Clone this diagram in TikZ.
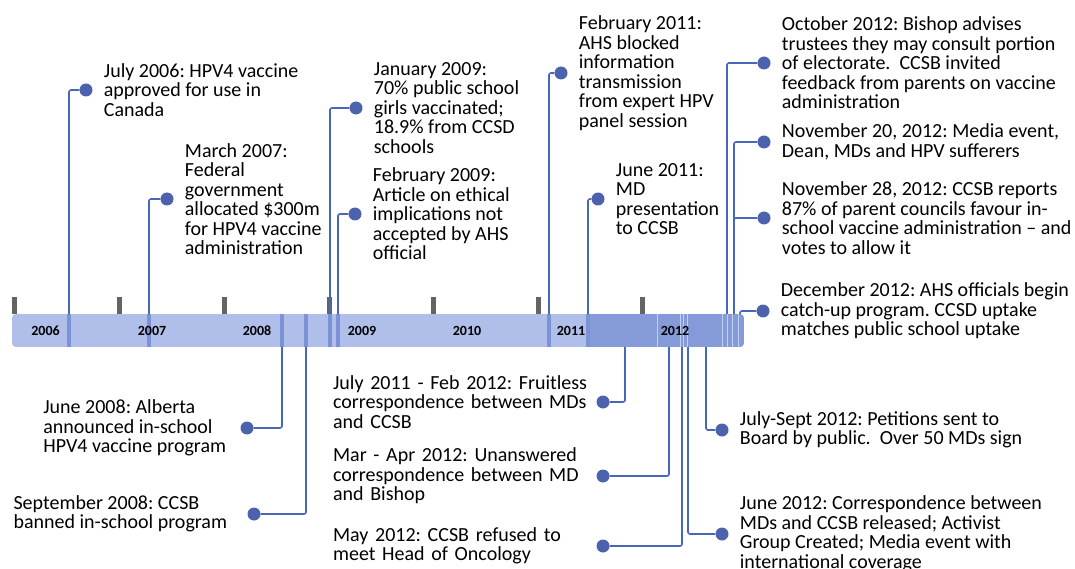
\documentclass[tikz,border=0pt]{standalone}
\usepackage{fontspec}
\setmainfont{Carlito}
\usetikzlibrary{positioning}

\definecolor{barlight}{RGB}{176,191,234}
\definecolor{bardark}{RGB}{133,154,216}
\definecolor{stripe}{RGB}{125,146,212}
\definecolor{hairline}{RGB}{196,208,240}
\definecolor{linkblue}{RGB}{72,102,186}
\definecolor{dotblue}{RGB}{76,98,172}
\definecolor{tickgray}{RGB}{100,100,100}

\tikzset{
  evdot/.style={circle, fill=dotblue, inner sep=0pt, minimum size=13pt},
  conn/.style={draw=linkblue, line width=1.6pt, rounded corners=2pt},
  evtext/.style={align=left, inner sep=0pt, font=\fontsize{20}{19.5}\selectfont\frenchspacing},
  yearlbl/.style={font=\fontsize{14}{14}\selectfont\bfseries, inner sep=0pt},
  tickmark/.style={fill=tickgray},
}

\begin{document}
\begin{tikzpicture}[x=1pt, y=-1pt, node distance=11pt]
    \useasboundingbox (0,0) rectangle (1075,569);

    % Year ticks
    \foreach \tx in {14,119,224,329,433,538,642}
        \fill[tickmark] (\tx-2.5,297) rectangle (\tx+2.5,314);

    % Timeline bar
    \begin{scope}
        \clip[rounded corners=4pt] (12,314) rectangle (744,347);
        \fill[barlight] (12,314) rectangle (744,347);
        \fill[bardark] (590,314) rectangle (744,347);
        \foreach \sx in {69,149,282,306,330,338,549,588}
            \fill[stripe] (\sx-2.2,314) rectangle (\sx+2.2,347);
        \foreach \hx in {657,680,683.5,687,722,727,732.5,738}
            \draw[hairline, line width=0.8pt] (\hx,314) -- (\hx,347);
    \end{scope}

    % Year labels
    \foreach \yr/\yx in {2006/45.5, 2007/152, 2008/257, 2009/362, 2010/467, 2011/571, 2012/675}
        \node[yearlbl] (y\yr) at (\yx,331) {\yr};

    % Events above the bar
    \coordinate (jul06 base) at (69,314);
    \node[evdot] (jul06) at (86,90) {};
    \draw[conn] (jul06 base) |- (jul06);
    \node[evtext, right=of jul06] (jul06 txt) {July 2006: HPV4 vaccine\\approved for use in\\Canada};

    \coordinate (mar07 base) at (149,314);
    \node[evdot] (mar07) at (167,199) {};
    \draw[conn] (mar07 base) |- (mar07);
    \node[evtext, right=of mar07] (mar07 txt) {March 2007:\\Federal\\government\\allocated \$300m\\for HPV4 vaccine\\administration};

    \coordinate (jan09 base) at (330,314);
    \node[evdot] (jan09) at (356,108) {};
    \draw[conn] (jan09 base) |- (jan09);
    \node[evtext, right=of jan09] (jan09 txt) {January 2009:\\70\% public school\\girls vaccinated;\\18.9\% from CCSD\\schools};

    \coordinate (feb09 base) at (338,314);
    \node[evdot] (feb09) at (355,214) {};
    \draw[conn] (feb09 base) |- (feb09);
    \node[evtext, right=of feb09] (feb09 txt) {February 2009:\\Article on ethical\\implications not\\accepted by AHS\\official};

    \coordinate (feb11 base) at (549,314);
    \node[evdot] (feb11) at (561,73) {};
    \draw[conn] (feb11 base) |- (feb11);
    \node[evtext, right=of feb11] (feb11 txt) {February 2011:\\AHS blocked\\information\\transmission\\from expert HPV\\panel session};

    \coordinate (jun11 base) at (588,314);
    \node[evdot] (jun11) at (598,199) {};
    \draw[conn] (jun11 base) |- (jun11);
    \node[evtext, right=of jun11] (jun11 txt) {June 2011:\\MD\\presentation\\to CCSB};

    \coordinate (oct12 base) at (727,314);
    \node[evdot] (oct12) at (764,63) {};
    \draw[conn] (oct12 base) |- (oct12);
    \node[evtext, right=of oct12] (oct12 txt) {October 2012: Bishop advises\\trustees they may consult portion\\of electorate.\ \ CCSB invited\\feedback from parents on vaccine\\administration};

    \coordinate (nov base) at (734,314);
    \node[evdot] (nov20) at (764,142) {};
    \draw[conn] (nov base) |- (nov20);
    \node[evtext, right=of nov20] (nov20 txt) {November 20, 2012: Media event,\\Dean, MDs and HPV sufferers};

    \node[evdot] (nov28) at (764,218) {};
    \draw[conn] (nov base) |- (nov28);
    \node[evtext, right=of nov28] (nov28 txt) {November 28, 2012: CCSB reports\\87\% of parent councils favour in-\\school vaccine administration -- and\\votes to allow it};

    \coordinate (dec12 base) at (740,314);
    \node[evdot] (dec12) at (763,311) {};
    \draw[conn] (dec12 base) |- (dec12);
    \node[evtext, right=of dec12] (dec12 txt) {December 2012: AHS officials begin\\catch-up program. CCSD uptake\\matches public school uptake};

    % Events below the bar
    \coordinate (jun08 base) at (282,347);
    \node[evdot] (jun08) at (247,428) {};
    \draw[conn] (jun08 base) |- (jun08);
    \node[evtext, left=14pt of jun08] (jun08 txt) {June 2008: Alberta\\announced in-school\\HPV4 vaccine program};

    \coordinate (sep08 base) at (306,347);
    \node[evdot] (sep08) at (254,514) {};
    \draw[conn] (sep08 base) |- (sep08);
    \node[evtext, left=20pt of sep08] (sep08 txt) {September 2008: CCSB\\banned in-school program};

    \coordinate (jul11 base) at (625,347);
    \node[evdot] (jul11) at (603,402) {};
    \draw[conn] (jul11 base) |- (jul11);
    \node[evtext, text width=256pt, left=7pt of jul11] (jul11 txt) {July 2011 - Feb 2012: Fruitless\\correspondence between MDs\\and CCSB};

    \coordinate (mar12 base) at (669,347);
    \node[evdot] (mar12) at (603,476) {};
    \draw[conn] (mar12 base) |- (mar12);
    \node[evtext, text width=256pt, left=7pt of mar12] (mar12 txt) {Mar - Apr 2012: Unanswered\\correspondence between MD\\and Bishop};

    \coordinate (may12 base) at (682,347);
    \node[evdot] (may12) at (603,546) {};
    \draw[conn] (may12 base) |- (may12);
    \node[evtext, text width=256pt, left=7pt of may12] (may12 txt) {May 2012: CCSB refused to\\meet Head of Oncology};

    \coordinate (jun12 base) at (688,347);
    \node[evdot] (jun12) at (722,534) {};
    \draw[conn] (jun12 base) |- (jun12);
    \node[evtext, right=of jun12] (jun12 txt) {June 2012: Correspondence between\\MDs and CCSB released; Activist\\Group Created; Media event with\\international coverage};

    \coordinate (julsep base) at (706,347);
    \node[evdot] (julsep) at (722,430) {};
    \draw[conn] (julsep base) |- (julsep);
    \node[evtext, right=of julsep] (julsep txt) {July-Sept 2012: Petitions sent to\\Board by public.\ \ Over 50 MDs sign};
\end{tikzpicture}
\end{document}
